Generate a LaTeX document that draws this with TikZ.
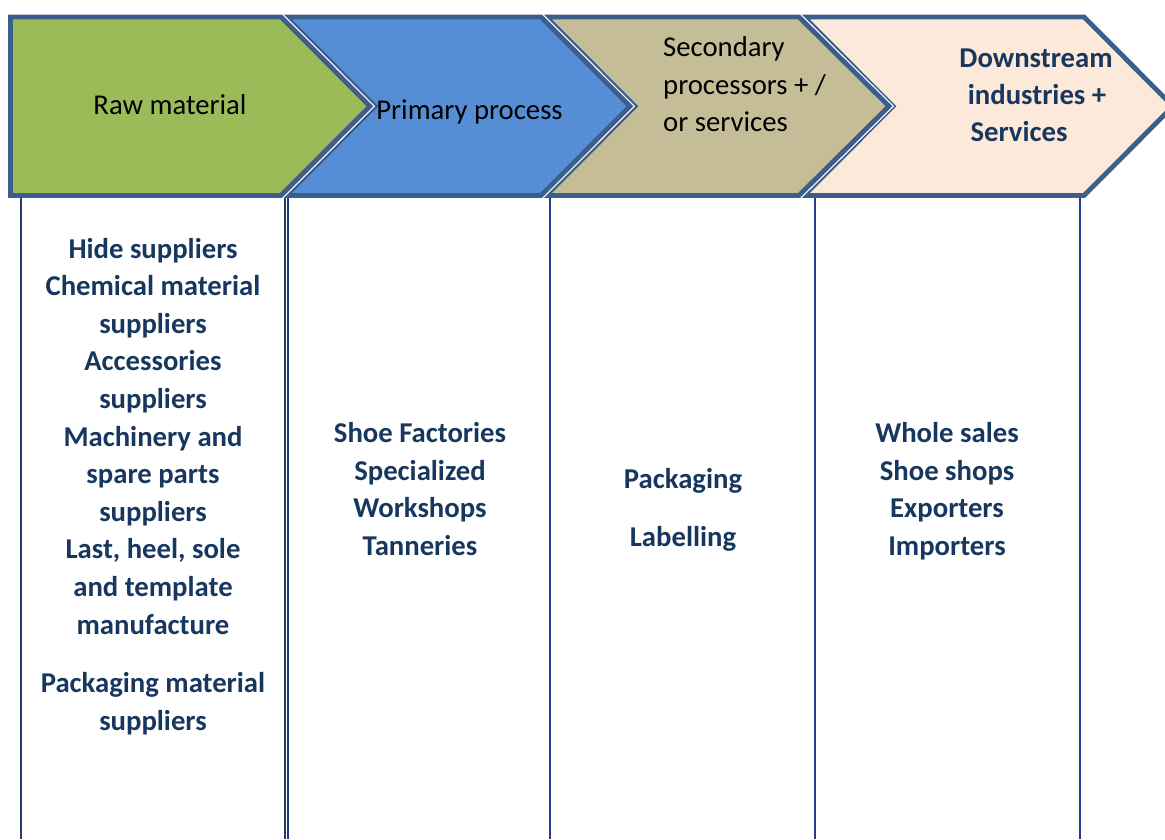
\documentclass[tikz,border=0pt]{standalone}
\usepackage{fontspec}
\setmainfont{Carlito}
\definecolor{bord}{HTML}{3B5E8D}
\definecolor{cgreen}{HTML}{9BBB59}
\definecolor{cblue}{HTML}{558ED5}
\definecolor{ctan}{HTML}{C4BD97}
\definecolor{cpeach}{HTML}{FDE9D9}
\definecolor{txtblue}{HTML}{17375E}
\definecolor{lineA}{HTML}{1F3F6E}
\definecolor{lineB}{HTML}{243C93}
\begin{document}
\begin{tikzpicture}[x=1pt,y=-1pt,
  chev/.style={draw=bord, line width=4.8pt, line join=miter},
  halo/.style={draw=white, line width=7.3pt, line join=miter},
  body/.style={font=\fontsize{28.7}{37.6}\selectfont\bfseries, text=txtblue, anchor=base, inner sep=0pt},
  head/.style={font=\fontsize{28.7}{37.6}\selectfont, text=black, anchor=base, inner sep=0pt},
  colline/.style={line width=2pt}]
\useasboundingbox (0,0) rectangle (1165,839);
\begin{scope}
\clip (0,0) rectangle (1165,839);
% chevron 4
\draw[halo] (804,17) -- (1084,17) -- (1173,106.25) -- (1084,195.5) -- (804,195.5) -- (893,106.25) -- cycle;
\draw[chev, fill=cpeach] (804,17) -- (1084,17) -- (1173,106.25) -- (1084,195.5) -- (804,195.5) -- (893,106.25) -- cycle;
% chevron 3
\draw[halo] (546,17) -- (799,17) -- (889,106.25) -- (799,195.5) -- (546,195.5) -- (635,106.25) -- cycle;
\draw[chev, fill=ctan] (546,17) -- (799,17) -- (889,106.25) -- (799,195.5) -- (546,195.5) -- (635,106.25) -- cycle;
% chevron 2
\draw[halo] (286,17) -- (541,17) -- (630,106.25) -- (541,195.5) -- (286,195.5) -- (375,106.25) -- cycle;
\draw[chev, fill=cblue] (286,17) -- (541,17) -- (630,106.25) -- (541,195.5) -- (286,195.5) -- (375,106.25) -- cycle;
% chevron 1
\draw[halo] (10.5,17) -- (281,17) -- (370,106.25) -- (281,195.5) -- (10.5,195.5) -- cycle;
\draw[chev, fill=cgreen] (10.5,17) -- (281,17) -- (370,106.25) -- (281,195.5) -- (10.5,195.5) -- cycle;
\end{scope}
% column lines
\coordinate (l1t) at (21,198);   \coordinate (l1b) at (21,839);
\coordinate (l2t) at (285,198);  \coordinate (l2b) at (285,839);
\coordinate (l2tt) at (288,198); \coordinate (l2bb) at (288,839);
\coordinate (l3t) at (550,198);  \coordinate (l3b) at (550,839);
\coordinate (l4t) at (815,198);  \coordinate (l4b) at (815,839);
\coordinate (l5t) at (1080,198); \coordinate (l5b) at (1080,839);
\draw[colline, draw=lineA] (l1t) -- (l1b);
\draw[line width=1.3pt, draw=lineA] (l2t) -- (l2b);
\draw[line width=1.3pt, draw=lineA] (l2tt) -- (l2bb);
\draw[colline, draw=lineB] (l3t) -- (l3b);
\draw[colline, draw=lineB] (l4t) -- (l4b);
\draw[colline, draw=lineB] (l5t) -- (l5b);
% header texts
\node[head] (raw) at (170,114) {Raw material};
\node[head] (prim) at (469.5,119) {Primary process};
\node[head, anchor=base west] (sec1) at (663,56) {Secondary};
\node[head, anchor=base west] (sec2) at (663,94) {processors + /};
\node[head, anchor=base west] (sec3) at (663,131) {or services};
\node[body] (dn1) at (1036,67) {Downstream};
\node[body] (dn2) at (1037,104) {industries +};
\node[body] (dn3) at (1019,141) {Services};
% column 1
\node[body] (a1) at (153,258) {Hide suppliers};
\node[body] (a2) at (153,295.6) {Chemical material};
\node[body] (a3) at (153,333.2) {suppliers};
\node[body] (a4) at (153,370.8) {Accessories};
\node[body] (a5) at (153,408.4) {suppliers};
\node[body] (a6) at (153,446) {Machinery and};
\node[body] (a7) at (153,483.6) {spare parts};
\node[body] (a8) at (153,521.2) {suppliers};
\node[body] (a9) at (153,558.8) {Last, heel, sole};
\node[body] (a10) at (153,596.4) {and template};
\node[body] (a11) at (153,634) {manufacture};
\node[body] (a12) at (153,692) {Packaging material};
\node[body] (a13) at (153,730) {suppliers};
% column 2
\node[body] (b1) at (420,442) {Shoe Factories};
\node[body] (b2) at (420,480) {Specialized};
\node[body] (b3) at (420,517) {Workshops};
\node[body] (b4) at (420,555) {Tanneries};
% column 3
\node[body] (c1) at (683,488) {Packaging};
\node[body] (c2) at (683,546) {Labelling};
% column 4
\node[body] (d1) at (947,442) {Whole sales};
\node[body] (d2) at (947,480) {Shoe shops};
\node[body] (d3) at (947,517) {Exporters};
\node[body] (d4) at (947,555) {Importers};
\end{tikzpicture}
\end{document}
